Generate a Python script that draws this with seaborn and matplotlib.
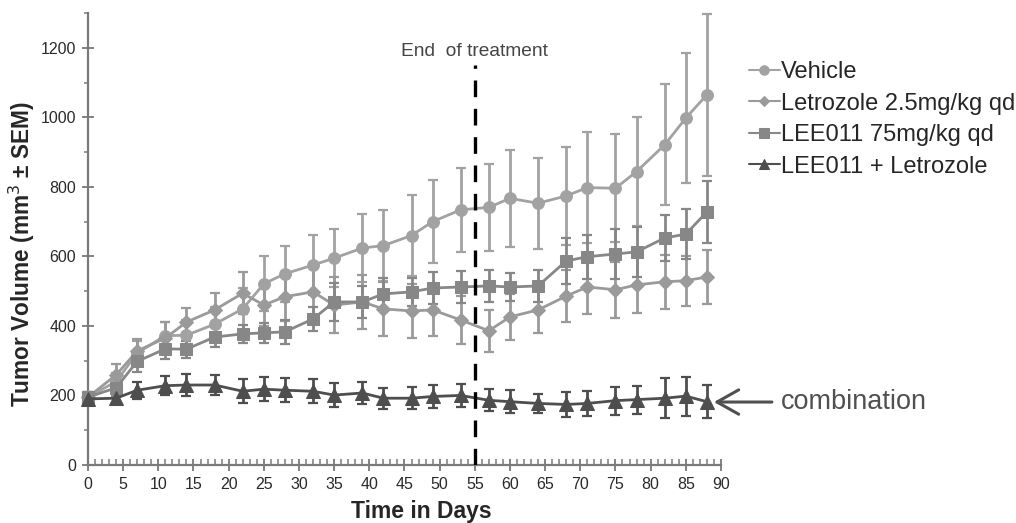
import matplotlib
matplotlib.use("Agg")
import matplotlib.pyplot as plt
from matplotlib.ticker import MultipleLocator
import pandas as pd
import seaborn as sns

# values (mean and SEM per group)
days = [0, 4, 7, 11, 14, 18, 22, 25, 28, 32, 35, 39, 42, 46, 49, 53,
        57, 60, 64, 68, 71, 75, 78, 82, 85, 88]

vehicle = [195, 240, 322, 372, 373, 405, 449, 521, 550, 575, 595, 624, 631,
           660, 700, 734, 741, 767, 753, 774, 798, 796, 844, 921, 998, 1065]
vehicle_sem = [15, 25, 35, 40, 45, 50, 60, 79, 80, 87, 84, 98, 103, 117, 120,
               120, 125, 139, 131, 142, 159, 156, 157, 174, 187, 233]

letrozole = [195, 259, 328, 365, 411, 446, 494, 460, 484, 498, 460, 469, 449,
             443, 446, 417, 386, 426, 446, 486, 512, 504, 518, 527, 530, 541]
letrozole_sem = [15, 30, 35, 45, 40, 50, 60, 60, 70, 75, 80, 78, 78, 78, 75,
                 69, 61, 66, 66, 74, 77, 81, 81, 78, 72, 78]

lee011 = [195, 222, 298, 334, 333, 368, 377, 380, 383, 420, 469, 469, 492,
          498, 509, 512, 515, 512, 515, 587, 599, 607, 613, 653, 664, 728]
lee011_sem = [15, 25, 30, 30, 25, 30, 25, 28, 35, 35, 55, 45, 45, 40, 45, 46,
              46, 40, 46, 66, 63, 72, 72, 67, 71, 90]

combo = [190, 192, 215, 228, 230, 230, 212, 218, 215, 212, 201, 207, 192, 192,
         197, 200, 186, 182, 177, 174, 177, 185, 188, 192, 198, 182]
combo_sem = [12, 15, 25, 28, 32, 30, 35, 35, 35, 35, 35, 32, 30, 32, 32, 32,
             32, 33, 28, 35, 35, 40, 40, 57, 56, 48]

groups = ["Vehicle", "Letrozole 2.5mg/kg qd", "LEE011 75mg/kg qd",
          "LEE011 + Letrozole"]
means = [vehicle, letrozole, lee011, combo]
sems = [vehicle_sem, letrozole_sem, lee011_sem, combo_sem]

colors = ["#a2a2a2", "#9a9a9a", "#878787", "#4e4e4e"]
markers = ["o", "D", "s", "^"]
msizes = [8.5, 7, 8.5, 9.5]

rows = []
for g, m, s in zip(groups, means, sems):
    for d, v, e in zip(days, m, s):
        rows.append({"day": d, "volume": v, "sem": e, "group": g})
df = pd.DataFrame(rows)

sns.set_style("ticks")
plt.rcParams["font.family"] = ["Liberation Sans", "DejaVu Sans"]

fig = plt.figure(figsize=(10.16, 5.23), dpi=100)
ax = fig.add_axes([0.0866, 0.111, 0.6230, 0.864])

# error bars first so the markers sit on top
for g, c in zip(groups, colors):
    sub = df[df["group"] == g]
    ax.errorbar(sub["day"], sub["volume"], yerr=sub["sem"], fmt="none",
                ecolor=c, elinewidth=2, capsize=3.5, capthick=1.6,
                clip_on=False, zorder=2)

for g, c, mk, ms in zip(groups, colors, markers, msizes):
    sub = df[df["group"] == g]
    sns.lineplot(data=sub, x="day", y="volume", color=c, marker=mk,
                 markersize=ms, markeredgecolor=c, linewidth=2, ax=ax,
                 label=g, clip_on=False, zorder=3)

ax.set_xlim(0, 90)
ax.set_ylim(0, 1300)
ax.xaxis.set_major_locator(MultipleLocator(5))
ax.xaxis.set_minor_locator(MultipleLocator(1))
ax.set_yticks(range(0, 1201, 200))
ax.yaxis.set_minor_locator(MultipleLocator(100))

sns.despine(ax=ax)
for sp in ["left", "bottom"]:
    ax.spines[sp].set_color("#7a7a7a")
    ax.spines[sp].set_linewidth(1.6)
ax.tick_params(axis="both", which="major", direction="inout", length=9,
               width=1.3, color="#7a7a7a", labelsize=11.5,
               labelcolor="#2a2a2a")
ax.tick_params(axis="x", which="major", pad=4)
ax.tick_params(axis="y", which="major", pad=4)
ax.tick_params(axis="x", which="minor", direction="in", length=4,
               width=1.1, color="#7a7a7a")
ax.tick_params(axis="y", which="minor", direction="out", length=3,
               width=1.1, color="#7a7a7a")

ax.set_xlabel("Time in Days", fontsize=16.5, fontweight="bold")
ax.xaxis.set_label_coords(0.526, -0.078)
ax.set_ylabel("Tumor Volume (mm$^3$ ± SEM)", fontsize=16.3,
              fontweight="bold")
ax.yaxis.set_label_coords(-0.08, 0.467)

# end of treatment marker
ax.axvline(55, ymin=0, ymax=1150 / 1300, color="black", linestyle=(0, (5, 3.5)),
           linewidth=2.4, zorder=4)
ax.text(55, 1166, "End  of treatment", ha="center", va="bottom",
        fontsize=13.8, color="#444444")

ax.annotate("combination", xy=(89, 181), xytext=(98.5, 181),
            xycoords="data", textcoords="data", ha="left", va="center",
            fontsize=19.5, color="#505050", annotation_clip=False,
            arrowprops=dict(arrowstyle="->,head_length=0.8,head_width=0.45",
                            color="#505050", lw=2.2, shrinkA=4, shrinkB=0))

handles, labels = ax.get_legend_handles_labels()
leg = ax.legend(handles, labels, loc="upper left",
                bbox_to_anchor=(0.728, 0.901), bbox_transform=fig.transFigure,
                frameon=False, fontsize=17, handlelength=1.3,
                handletextpad=0.05, labelspacing=0.4, borderaxespad=0,
                markerscale=0.8)
for h in leg.legend_handles:
    h.set_linewidth(1.5)

fig.savefig("out.png", dpi=100)
